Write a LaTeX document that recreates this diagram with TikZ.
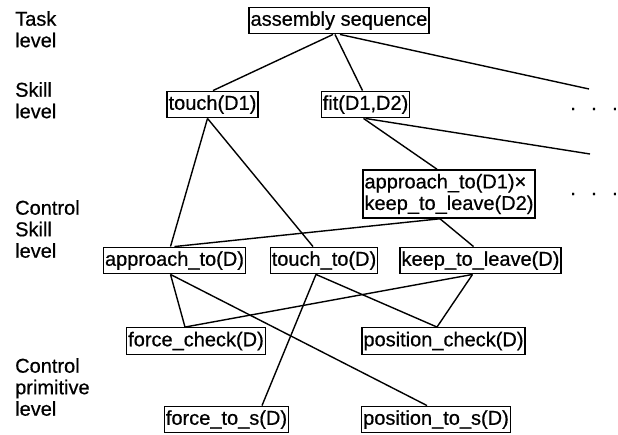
\documentclass[tikz,border=0pt]{standalone}
\usepackage{fontspec}
\setmainfont{Liberation Sans}[BoldFont={Liberation Sans}, BoldFeatures={FakeBold=0.6}]
\begin{document}
\begin{tikzpicture}[x=1pt,y=-1pt,
  txt/.style={font=\fontsize{20}{21.5}\selectfont\bfseries},
  box/.style={txt, draw, line width=1.4pt, inner xsep=1.5pt, inner ysep=3.5pt, text height=15pt, text depth=4.5pt},
  mbox/.style={txt, draw, line width=1.4pt, inner xsep=1.5pt, inner ysep=4pt, align=left},
  lbl/.style={txt, anchor=north west, inner sep=0pt, align=left},
  dots/.style={txt, anchor=base, inner sep=0pt},
  conn/.style={line width=1.4pt}]
\useasboundingbox (0,0) rectangle (618,434);
% level labels
\node[lbl] (Ltask) at (15,11) {Task\\level};
\node[lbl] (Lskill) at (15,82) {Skill\\level};
\node[lbl] (Lcskill) at (15,200) {Control\\Skill\\level};
\node[lbl] (Lcprim) at (15,358) {Control\\primitive\\level};
% nodes
\node[box] (asm) at (339,20.5) {assembly sequence};
\node[box] (t1) at (212.5,104.5) {touch(D1)};
\node[box] (fit) at (365.5,104.5) {fit(D1,D2)};
\node[mbox] (ax) at (449,194) {approach\_to(D1)×\\keep\_to\_leave(D2)};
\node[box] (ap) at (174.5,260.5) {approach\_to(D)};
\node[box] (tt) at (324,260.5) {touch\_to(D)};
\node[box] (kl) at (480.5,260.5) {keep\_to\_leave(D)};
\node[box] (fc) at (196,341) {force\_check(D)};
\node[box] (pc) at (443.5,341) {position\_check(D)};
\node[box] (fs) at (226.5,419.5) {force\_to\_s(D)};
\node[box] (ps) at (436,419.5) {position\_to\_s(D)};
\node[dots] (d1) at (594,110) {.\hspace{15.4pt}.\hspace{15.4pt}.};
\node[dots] (d2) at (594,195) {.\hspace{15.4pt}.\hspace{15.4pt}.};
\coordinate (e1) at (589,89);
\coordinate (e2) at (590,154);
% connectors
\draw[conn] ([xshift=-6pt]asm.south) -- ([xshift=0.5pt]t1.north);
\draw[conn] ([xshift=-4pt]asm.south) -- ([xshift=-3pt]fit.north);
\draw[conn] ([xshift=1pt]asm.south) -- (e1);
\draw[conn] ([xshift=-5pt]t1.south) -- ([xshift=-4pt]ap.north);
\draw[conn] ([xshift=-5pt]t1.south) -- ([xshift=-11pt]tt.north);
\draw[conn] ([xshift=-2pt]fit.south) -- ([xshift=-12pt]ax.north);
\draw[conn] (fit.south) -- (e2);
\draw[conn] ([xshift=-9pt]ax.south) -- (ap.north);
\draw[conn] ([xshift=-9pt]ax.south) -- ([xshift=-7pt]kl.north);
\draw[conn] ([xshift=-4pt]ap.south) -- ([xshift=-11pt]fc.north);
\draw[conn] ([xshift=-4pt]ap.south) -- ([xshift=-9pt]ps.north);
\draw[conn] ([xshift=-8pt]tt.south) -- ([xshift=35.5pt]fs.north);
\draw[conn] ([xshift=-8pt]tt.south) -- ([xshift=-6.5pt]pc.north);
\draw[conn] ([xshift=-8pt]kl.south) -- ([xshift=-11pt]fc.north);
\draw[conn] ([xshift=-8pt]kl.south) -- ([xshift=-6.5pt]pc.north);
\end{tikzpicture}
\end{document}
